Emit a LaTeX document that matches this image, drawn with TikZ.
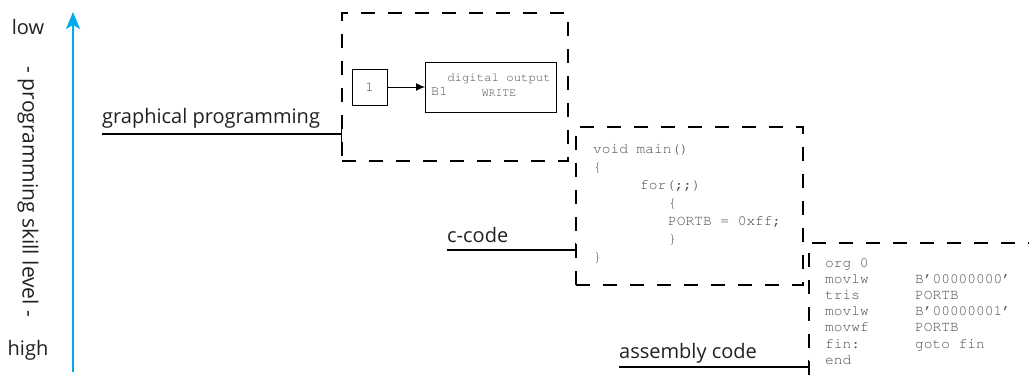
\documentclass[tikz,border=0pt]{standalone}
\usepackage[T1]{fontenc}
\usepackage{fontspec}
\setmainfont{Open Sans}
\newcommand\courfont{\fontencoding{T1}\fontfamily{pcr}\selectfont}
\usetikzlibrary{arrows.meta}
\definecolor{axiscyan}{RGB}{0,170,235}
\definecolor{codegray}{RGB}{75,75,75}
\definecolor{lblblack}{RGB}{35,31,32}
\begin{document}
\begin{tikzpicture}[x=1pt,y=-1pt,
  dashbox/.style={draw, line width=2.2pt, dash pattern=on 14pt off 13pt, inner sep=0pt, outer sep=0pt},
  lbl/.style={font=\fontsize{20}{24}\selectfont, text=lblblack, inner sep=0pt, anchor=base west},
  lead/.style={line width=1.3pt, -{Bar[width=15pt,line width=1.3pt]}},
  code/.style={font=\courfont\fontsize{14.5}{16}\selectfont, text=codegray, inner sep=0pt, anchor=base west},
  blk/.style={draw, line width=1pt, inner sep=0pt, outer sep=0pt}]
\useasboundingbox (0,0) rectangle (1029,388);
\clip (0,0) rectangle (1029,388);

% axis
\coordinate (axB) at (73,372);
\coordinate (axT) at (73,12);
\draw[axiscyan, line width=1.6pt, -{Stealth[length=17pt,width=14pt,inset=4pt]}] (axB) -- (axT);
\node[lbl, anchor=center] (low) at (28,27) {low};
\node[lbl, anchor=center] (high) at (28,350) {high};
\node[lbl, anchor=center, rotate=-90, font=\fontsize{21}{24}\selectfont] (skill) at (28,192) {- programming skill level -};

% box 1 : graphical programming
\node[dashbox, minimum width=226pt, minimum height=148pt, anchor=north west] (box1) at (342,13) {};
\node[blk, minimum width=35pt, minimum height=36pt, anchor=north west, text=codegray, font=\courfont\fontsize{14}{16}\selectfont] (one) at (352,69) {1};
\node[blk, minimum width=131pt, minimum height=50pt, anchor=north west] (dout) at (425,62) {};
\draw[line width=1pt, -{Latex[length=9pt,width=8pt]}] (one.east) -- (dout.west);
\node[code, font=\courfont\fontsize{13.5}{15}\selectfont, anchor=base west] (b1) at (431,95) {B1};
\node[code, font=\courfont\fontsize{12.3}{14}\selectfont, anchor=base] (dig) at (499,81) {digital output};
\node[code, font=\courfont\fontsize{11.5}{13}\selectfont, anchor=base] (wr) at (499,96) {WRITE};

\node[lbl] (gp) at (102,123) {graphical programming};
\coordinate (gpL) at (102,134);
\draw[lead] (gpL) -- (gpL -| box1.west);

% box 2 : c-code
\node[dashbox, minimum width=227pt, minimum height=158pt, anchor=north west] (box2) at (576,127) {};
\node[code] (c1) at (593,153) {void main()};
\node[code] (c2) at (593,171) {\{};
\node[code] (c3) at (640,189) {for(;;)};
\node[code] (c4) at (668,207) {\{};
\node[code] (c5) at (668,225) {PORTB = 0xff;};
\node[code] (c6) at (668,243) {\}};
\node[code] (c7) at (593,261) {\}};

\node[lbl] (cc) at (447,242) {c-code};
\coordinate (ccL) at (447,250);
\draw[lead] (ccL) -- (ccL -| box2.west);

% box 3 : assembly code
\node[dashbox, minimum width=300pt, minimum height=200pt, anchor=north west] (box3) at (809,243) {};
\node[code] (a1) at (825,267) {org 0};
\node[code] (a2) at (825,283) {movlw};
\node[code] (a2b) at (915,283) {B\textquoteright00000000\textquoteright};
\node[code] (a3) at (825,299) {tris};
\node[code] (a3b) at (915,299) {PORTB};
\node[code] (a4) at (825,315) {movlw};
\node[code] (a4b) at (915,315) {B\textquoteright00000001\textquoteright};
\node[code] (a5) at (825,331) {movwf};
\node[code] (a5b) at (915,331) {PORTB};
\node[code] (a6) at (825,348) {fin:};
\node[code] (a6b) at (915,348) {goto fin};
\node[code] (a7) at (825,364) {end};

\node[lbl] (ac) at (619,358) {assembly code};
\coordinate (acL) at (619,367);
\draw[lead] (acL) -- (acL -| box3.west);
\end{tikzpicture}
\end{document}
